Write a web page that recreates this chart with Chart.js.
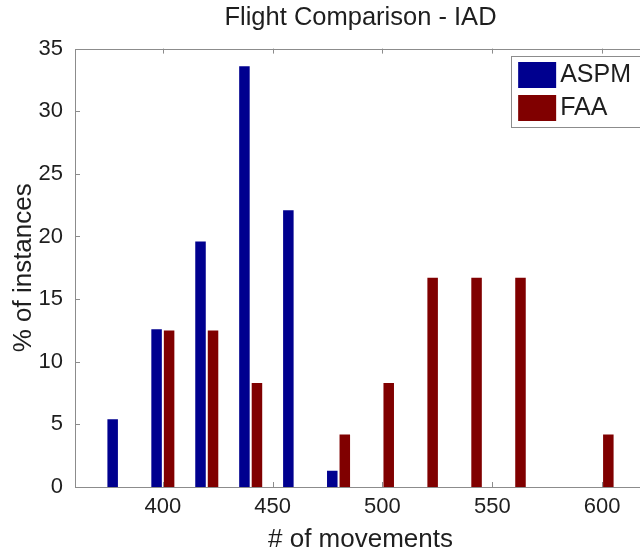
<!DOCTYPE html>
<html>
<head>
<meta charset="utf-8">
<title>Flight Comparison - IAD</title>
<script src="https://cdn.jsdelivr.net/npm/chart.js@4.4.1/dist/chart.umd.min.js"></script>
<style>
  html, body { margin: 0; padding: 0; background: #fff; overflow: hidden; }
  #wrap { width: 648px; height: 556px; }
</style>
</head>
<body>
<div id="wrap"><canvas id="flightCanvas" width="648" height="556"></canvas></div>
<script>
// Histogram bins (# of movements) and the share of instances in each
const bins = [380, 400, 420, 440, 460, 480, 500, 520, 540, 560, 580, 600];
const aspmValues = [5.4, 12.6, 19.6, 33.6, 22.1, 1.3, 0, 0, 0, 0, 0, 0];
const faaValues = [0, 12.5, 12.5, 8.3, 0, 4.2, 8.3, 16.7, 16.7, 16.7, 0, 4.2];
const seriesNames = ['ASPM', 'FAA'];
const xTicks = [400, 450, 500, 550, 600];
const yTicks = [0, 5, 10, 15, 20, 25, 30, 35];

const fontFamily = '"Liberation Sans", Arial, Helvetica, sans-serif';
const textColor = '#1e1e1e';
const axisColor = '#8c8c8c';
const seriesColors = ['#00008f', '#800000'];

// MATLAB style box round the axes, with inward ticks on all four sides
const axesBox = {
    id: 'axesBox',
    afterDatasetsDraw(chart) {
        const { ctx, chartArea: a, scales: { x, y } } = chart;
        ctx.save();
        ctx.strokeStyle = axisColor;
        ctx.lineWidth = 1;
        ctx.strokeRect(Math.round(a.left) + 0.5, Math.round(a.top) + 0.5,
            Math.round(a.right - a.left), Math.round(a.bottom - a.top));
        ctx.beginPath();
        x.ticks.forEach(t => {
            const px = Math.round(x.getPixelForValue(t.value)) + 0.5;
            ctx.moveTo(px, a.bottom); ctx.lineTo(px, a.bottom - 5);
            ctx.moveTo(px, a.top); ctx.lineTo(px, a.top + 5);
        });
        y.ticks.forEach(t => {
            const py = Math.round(y.getPixelForValue(t.value)) + 0.5;
            ctx.moveTo(a.left, py); ctx.lineTo(a.left + 5, py);
            ctx.moveTo(a.right, py); ctx.lineTo(a.right - 5, py);
        });
        ctx.stroke();
        ctx.restore();
    }
};

// Boxed legend inside the top right corner of the plot
const boxLegend = {
    id: 'boxLegend',
    afterDraw(chart) {
        const { ctx, chartArea: a } = chart;
        const sets = chart.data.datasets;
        ctx.save();
        ctx.font = '25px ' + fontFamily;
        const textW = Math.max(...sets.map(d => ctx.measureText(d.label).width));
        const boxW = 7 + 38 + 4 + textW + 11;
        const boxH = 71;
        const right = Math.round(a.right) - 4;
        const left = right - boxW;
        const top = Math.round(a.top) + 7;
        ctx.fillStyle = '#fff';
        ctx.fillRect(left, top, boxW, boxH);
        ctx.strokeStyle = axisColor;
        ctx.lineWidth = 1;
        ctx.strokeRect(Math.round(left) + 0.5, top + 0.5, Math.round(boxW), boxH);
        sets.forEach((d, i) => {
            const sy = top + 6 + i * 33;
            ctx.fillStyle = d.backgroundColor;
            ctx.fillRect(left + 7, sy, 38, 26);
            ctx.fillStyle = textColor;
            ctx.textBaseline = 'middle';
            ctx.textAlign = 'left';
            ctx.fillText(d.label, left + 7 + 38 + 4, sy + 13);
        });
        ctx.restore();
    }
};

const ctx = document.getElementById('flightCanvas').getContext('2d');
const chart = new Chart(ctx, {
    type: 'bar',
    data: {
        datasets: [
            {
                label: seriesNames[0],
                data: bins.map((b, i) => ({ x: b, y: aspmValues[i] })),
                backgroundColor: seriesColors[0],
                borderWidth: 0,
                categoryPercentage: 0.57,
                barPercentage: 0.84
            },
            {
                label: seriesNames[1],
                data: bins.map((b, i) => ({ x: b, y: faaValues[i] })),
                backgroundColor: seriesColors[1],
                borderWidth: 0,
                categoryPercentage: 0.57,
                barPercentage: 0.84
            }
        ]
    },
    options: {
        responsive: false,
        animation: false,
        layout: { padding: { left: 0, right: 2, top: 0, bottom: 0 } },
        plugins: {
            legend: { display: false },
            tooltip: { enabled: false },
            title: {
                display: true,
                fullSize: false,
                text: 'Flight Comparison - IAD',
                color: textColor,
                font: { family: fontFamily, size: 25.5, weight: 'normal' },
                padding: { top: 3, bottom: 15 }
            }
        },
        scales: {
            x: {
                type: 'linear',
                min: 360,
                max: 620,
                offset: false,
                grid: { display: false, drawTicks: false, offset: false },
                border: { display: false },
                afterBuildTicks: scale => { scale.ticks = xTicks.map(v => ({ value: v })); },
                afterFit: scale => { scale.height = 69; },
                ticks: {
                    color: textColor,
                    padding: 7,
                    maxRotation: 0,
                    font: { family: fontFamily, size: 22 }
                },
                title: {
                    display: true,
                    text: '# of movements',
                    color: textColor,
                    font: { family: fontFamily, size: 26 },
                    padding: { top: 0, bottom: 1 }
                }
            },
            y: {
                min: 0,
                max: 35,
                grid: { display: false, drawTicks: false },
                border: { display: false },
                afterBuildTicks: scale => { scale.ticks = yTicks.map(v => ({ value: v })); },
                afterFit: scale => { scale.width = 75; },
                ticks: {
                    color: textColor,
                    padding: 12,
                    font: { family: fontFamily, size: 22 }
                },
                title: {
                    display: true,
                    text: '% of instances',
                    color: textColor,
                    font: { family: fontFamily, size: 26 },
                    padding: { top: 8, bottom: 0 }
                }
            }
        }
    },
    plugins: [axesBox, boxLegend]
});
</script>
</body>
</html>
